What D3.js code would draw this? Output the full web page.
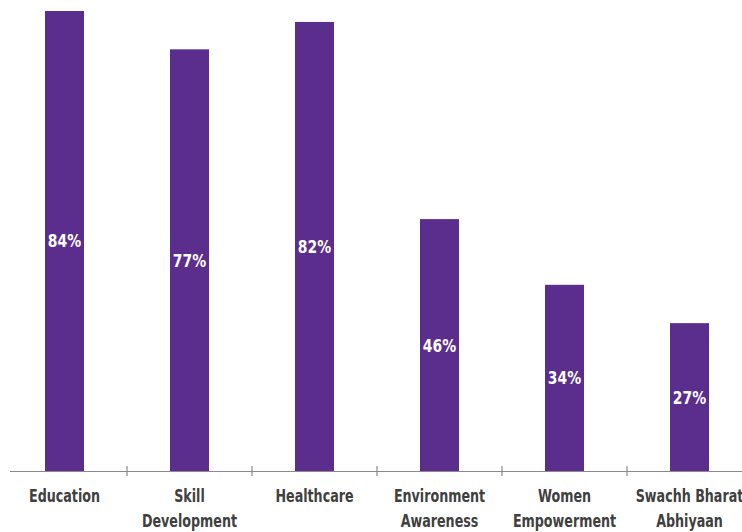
<!DOCTYPE html>
<html>
<head>
<meta charset="utf-8">
<script src="https://cdn.jsdelivr.net/npm/d3@7"></script>
<style>
  body { margin: 0; background: #fff; }
  text { font-family: "DejaVu Sans Condensed", "Liberation Sans Narrow", sans-serif; font-weight: bold; }
</style>
</head>
<body>
<div id="chart"></div>
<script>
// data
const categories = ["Education", "Skill Development", "Healthcare", "Environment Awareness", "Women Empowerment", "Swachh Bharat Abhiyaan"];
const labelLines = [["Education"], ["Skill", "Development"], ["Healthcare"], ["Environment", "Awareness"], ["Women", "Empowerment"], ["Swachh Bharat", "Abhiyaan"]];
const values = [84, 77, 82, 46, 34, 27];

const width = 742, height = 532;
const baseY = 471;
const squeeze = 0.83; // narrow the font to look condensed

const svg = d3.select("#chart").append("svg")
  .attr("width", width)
  .attr("height", height);

const x = d3.scaleBand()
  .domain(categories)
  .range([2, 752])
  .paddingInner(0.688)
  .paddingOuter(0.344);

const y = d3.scaleLinear()
  .domain([0, 84])
  .range([baseY, 11]);

// bars
svg.append("g").selectAll("rect")
  .data(values)
  .join("rect")
    .attr("x", (d, i) => x(categories[i]))
    .attr("y", d => y(d))
    .attr("width", x.bandwidth())
    .attr("height", d => baseY - y(d))
    .attr("fill", "#5b2d8c");

// value labels
svg.append("g").selectAll("text")
  .data(values)
  .join("text")
    .attr("transform", (d, i) => `translate(${x(categories[i]) + x.bandwidth() / 2},${(y(d) + baseY) / 2}) scale(0.86,1)`)
    .attr("dy", "0.36em")
    .attr("text-anchor", "middle")
    .attr("fill", "#fff")
    .attr("font-size", 18)
    .text(d => d + "%");

// axis line + ticks between bands
const ax = svg.append("g").attr("stroke", "#8a8a8a").attr("stroke-width", 1.2);
ax.append("line")
  .attr("x1", 10).attr("x2", width)
  .attr("y1", baseY + 0.5).attr("y2", baseY + 0.5);
ax.selectAll("line.tick")
  .data(categories.slice(1))
  .join("line")
    .attr("class", "tick")
    .attr("x1", d => x(d) - x.step() * x.paddingInner() / 2)
    .attr("x2", d => x(d) - x.step() * x.paddingInner() / 2)
    .attr("y1", baseY - 5)
    .attr("y2", baseY + 5);

// category labels
const lab = svg.append("g").selectAll("text")
  .data(labelLines)
  .join("text")
    .attr("transform", (d, i) => `translate(${x(categories[i]) + x.bandwidth() / 2},0) scale(${squeeze},1)`)
    .attr("text-anchor", "middle")
    .attr("fill", "#404040")
    .attr("font-size", 17);
lab.selectAll("tspan")
  .data(d => d)
  .join("tspan")
    .attr("x", 0)
    .attr("y", (d, i) => 502 + i * 25)
    .text(d => d);
</script>
</body>
</html>
